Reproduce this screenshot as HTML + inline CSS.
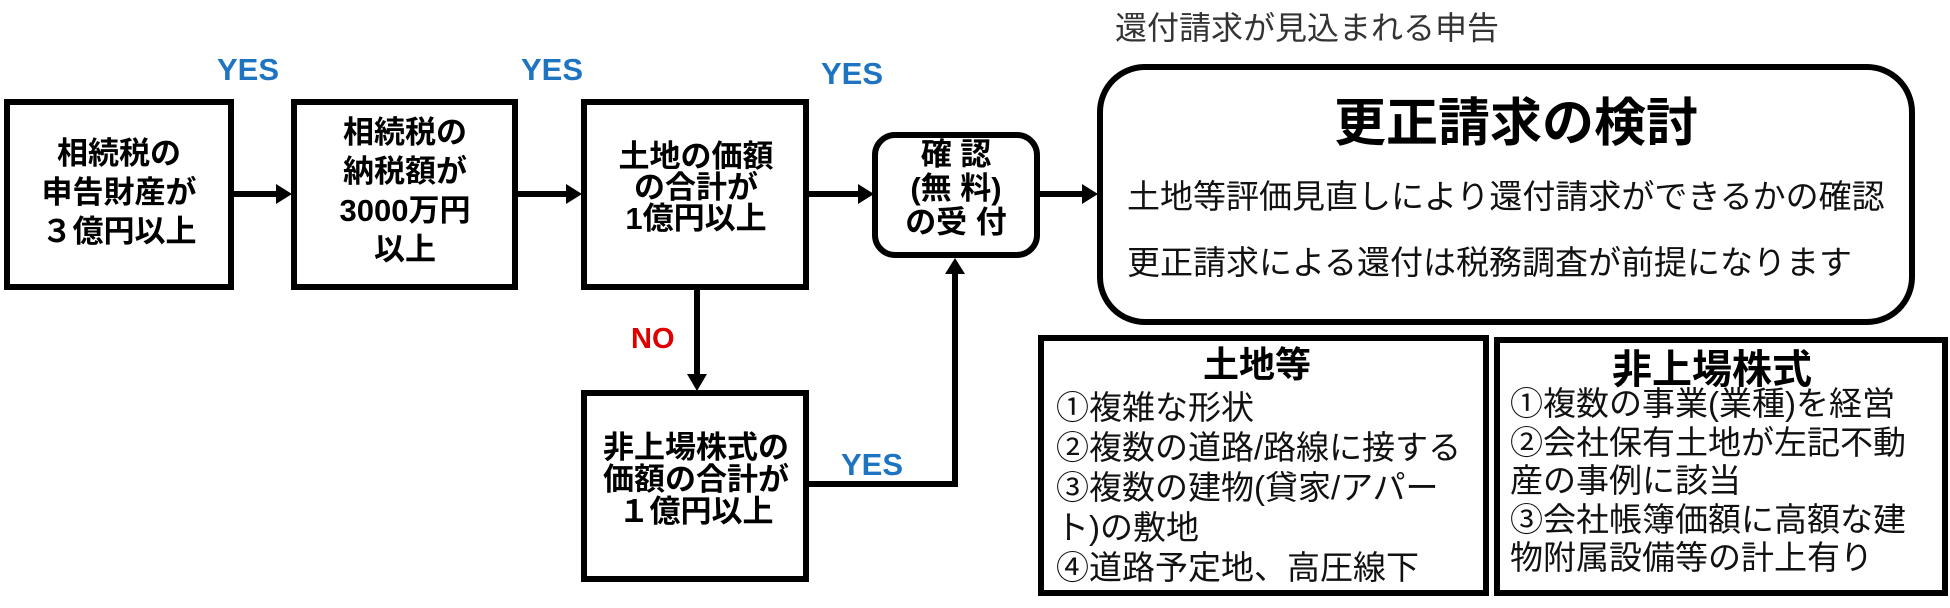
<!DOCTYPE html>
<html><head><meta charset="utf-8"><style>
body{margin:0;background:#fff;}
#c{position:relative;width:1950px;height:608px;overflow:hidden;font-family:"Liberation Sans","Noto Sans CJK JP",sans-serif;}
.t{position:absolute;white-space:nowrap;line-height:1;}
.b{font-weight:bold;color:#000;}
.cen{text-align:center;transform:translateX(-50%);}
.yes{color:#1f74c2;font-weight:bold;font-size:31px;}
</style></head><body><div id="c">
<svg width="1950" height="608" style="position:absolute;left:0;top:0">
<g fill="none" stroke="#000" stroke-width="6">
<rect x="7" y="102" width="224" height="185"/>
<rect x="294" y="102" width="221" height="185"/>
<rect x="584" y="102" width="222" height="185"/>
<rect x="584" y="393" width="222" height="186"/>
<rect x="875" y="135" width="162" height="120" rx="20"/>
<rect x="1100" y="67" width="812" height="255" rx="45"/>
<rect x="1041" y="338" width="445" height="255"/>
<rect x="1497" y="340" width="448" height="253"/>
<line x1="234" y1="194" x2="276" y2="194"/>
<line x1="518" y1="194" x2="566" y2="194"/>
<line x1="809" y1="194" x2="858" y2="194"/>
<line x1="1040" y1="194" x2="1082" y2="194"/>
<line x1="697" y1="290" x2="697" y2="374"/>
<polyline points="809,484 955,484 955,274"/>
</g>
<g fill="#000">
<polygon points="276,184 292,194 276,204"/>
<polygon points="566,184 582,194 566,204"/>
<polygon points="858,184 874,194 858,204"/>
<polygon points="1082,184 1098,194 1082,204"/>
<polygon points="687,374 697,391 707,374"/>
<polygon points="945,274 955,258 965,274"/>
</g>
</svg>
<div class="t yes" style="left:217px;top:54px">YES</div>
<div class="t yes" style="left:521px;top:54px">YES</div>
<div class="t yes" style="left:821px;top:58px">YES</div>
<div class="t yes" style="left:841px;top:449px">YES</div>
<div class="t" style="left:631px;top:325px;color:#e00000;font-weight:bold;font-size:29px">NO</div>

<div class="t b cen" style="left:119px;top:134px;font-size:31px;line-height:39px">相続税の<br>申告財産が<br>３億円以上</div>
<div class="t b cen" style="left:405px;top:113px;font-size:31px;line-height:39px">相続税の<br>納税額が<br>3000万円<br>以上</div>
<div class="t b cen" style="left:696px;top:141px;font-size:31px;line-height:31px">土地の価額<br>の合計が<br>1億円以上</div>
<div class="t b cen" style="left:956px;top:138px;font-size:31px;line-height:34px">確 認<br>(無 料)<br>の受 付</div>
<div class="t b cen" style="left:696px;top:432px;font-size:31px;line-height:32px">非上場株式の<br>価額の合計が<br>１億円以上</div>

<div class="t" style="left:1115px;top:12px;font-size:32px;color:#333">還付請求が見込まれる申告</div>
<div class="t b" style="left:1334px;top:98px;font-size:52px">更正請求の検討</div>
<div class="t" style="left:1127px;top:180px;font-size:33px;color:#111">土地等評価見直しにより還付請求ができるかの確認</div>
<div class="t" style="left:1127px;top:246px;font-size:33px;color:#111">更正請求による還付は税務調査が前提になります</div>

<div class="t b" style="left:1203px;top:347px;font-size:36px">土地等</div>
<div class="t" style="left:1056px;top:388px;font-size:33px;line-height:40px;color:#111">①複雑な形状<br>②複数の道路/路線に接する<br>③複数の建物(貸家/アパー<br>ト)の敷地<br>④道路予定地、高圧線下</div>
<div class="t b" style="left:1612px;top:350px;font-size:40px">非上場株式</div>
<div class="t" style="left:1510px;top:385px;font-size:33px;line-height:38.5px;color:#111">①複数の事業(業種)を経営<br>②会社保有土地が左記不動<br>産の事例に該当<br>③会社帳簿価額に高額な建<br>物附属設備等の計上有り</div>
</div></body></html>
